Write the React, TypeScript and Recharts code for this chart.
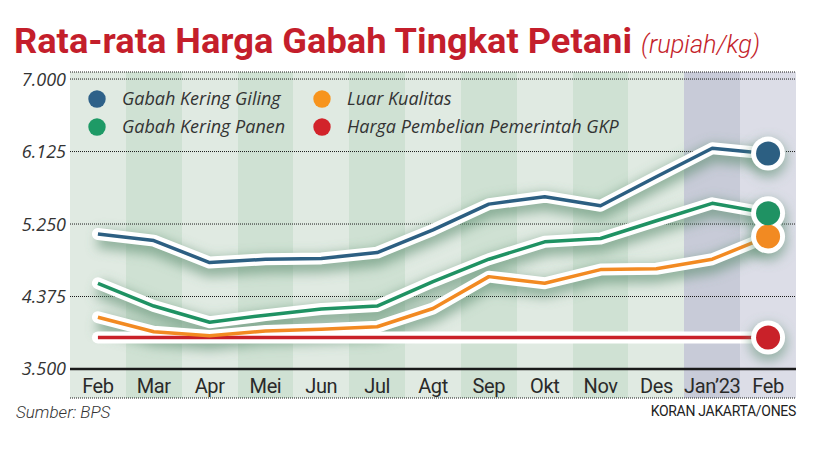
import React from 'react';
import { ComposedChart, Line, XAxis, YAxis, CartesianGrid, ReferenceLine } from 'recharts';

// ---- data ----
const monthKeys = ['m01', 'm02', 'm03', 'm04', 'm05', 'm06', 'm07', 'm08', 'm09', 'm10', 'm11', 'm12', 'm13'];
const monthLabels = ['Feb', 'Mar', 'Apr', 'Mei', 'Jun', 'Jul', 'Agt', 'Sep', 'Okt', 'Nov', 'Des', 'Jan\u201923', 'Feb'];
const gabahKeringGiling = [5130, 5050, 4785, 4825, 4835, 4905, 5180, 5490, 5580, 5470, 5820, 6165, 6100];
const gabahKeringPanen = [4535, 4260, 4065, 4150, 4225, 4260, 4555, 4825, 5035, 5075, 5290, 5500, 5380];
const luarKualitas = [4125, 3950, 3900, 3960, 3980, 4010, 4230, 4615, 4535, 4700, 4710, 4825, 5100];
const hargaPembelian = [3880, 3880, 3880, 3880, 3880, 3880, 3880, 3880, 3880, 3880, 3880, 3880, 3880];
const yTicks = [3500, 4375, 5250, 6125, 7000];

const seriesNames = ['Gabah Kering Giling', 'Luar Kualitas', 'Gabah Kering Panen', 'Harga Pembelian Pemerintah GKP'];

// ---- styles ----
const COLORS = { gkg: '#2c5f82', gkp: '#1f9263', lk: '#f28a22', hpp: '#c92129' };
const LEGEND_COLORS = ['#2e6189', '#f7941d', '#1e9a66', '#d2232a'];
const bandColors = ['#e0eae2', '#cfe1d3', '#e0eae2', '#cfe1d3', '#e0eae2', '#cfe1d3', '#e0eae2', '#cfe1d3', '#e0eae2', '#cfe1d3', '#e0eae2', '#c8cbd8', '#dcdde7'];

const data = monthKeys.map((key, i) => ({
  key,
  label: monthLabels[i],
  gkg: gabahKeringGiling[i],
  gkp: gabahKeringPanen[i],
  lk: luarKualitas[i],
  hpp: hargaPembelian[i],
}));

const lastIndex = data.length - 1;
const fmt = (v: number) => {
  const s = String(v);
  return s.slice(0, s.length - 3) + '.' + s.slice(s.length - 3);
};

const makeDot = (kind: 'glow' | 'halo' | 'main', color: string) => (props: any) => {
  const { cx, cy, index } = props;
  if (index !== lastIndex || cx == null || cy == null) return <g key={`d-${kind}-${index}`} />;
  if (kind === 'glow')
    return <circle key={`d-${kind}-${index}`} cx={cx} cy={cy} r={19} fill="#5e8f72" fillOpacity={0.55} filter="url(#glowBlur)" />;
  if (kind === 'halo') return <circle key={`d-${kind}-${index}`} cx={cx} cy={cy} r={17} fill="#ffffff" />;
  return <circle key={`d-${kind}-${index}`} cx={cx} cy={cy} r={12} fill={color} />;
};

const XTick = (props: any) => {
  const { x, y, payload } = props;
  const idx = monthKeys.indexOf(payload.value);
  return (
    <text x={x} y={y - 5} textAnchor="middle" fontFamily="Roboto" fontWeight={400} fontSize={20} fill="#2a2a2a" letterSpacing={-0.4}>
      {monthLabels[idx]}
    </text>
  );
};

const YTick = (props: any) => {
  const { x, y, payload } = props;
  return (
    <text x={x} y={y} dy="0.36em" textAnchor="end" fontFamily="Open Sans" fontStyle="italic" fontSize={18} fill="#333">
      {fmt(payload.value)}
    </text>
  );
};

const bandEdges = (args: any) => {
  const off = args && args.offset ? args.offset : { left: 70, width: 726 };
  return monthKeys.map((_, i) => off.left + (i * off.width) / monthKeys.length);
};

const seriesKeys: Array<keyof typeof COLORS> = ['hpp', 'lk', 'gkp', 'gkg'];

export default function App() {
  return (
    <div style={{ position: 'absolute', left: 0, top: 0, width: 814, height: 451, background: '#fff' }}>
      <ComposedChart width={814} height={451} data={data} margin={{ top: 72, right: 18, bottom: 23, left: 0 }}>
        <defs>
          <filter id="glowBlur" x="-20%" y="-100%" width="140%" height="300%">
            <feGaussianBlur stdDeviation="6" />
            <feOffset dy="5" />
          </filter>
        </defs>
        <XAxis
          dataKey="key"
          type="category"
          scale="band"
          axisLine={false}
          tickLine={false}
          tickSize={0}
          tickMargin={0}
          height={30}
          tick={<XTick />}
          interval={0}
        />
        <YAxis
          type="number"
          domain={[3150, 7085]}
          ticks={yTicks}
          allowDataOverflow
          width={70}
          axisLine={false}
          tickLine={false}
          tickSize={0}
          tickMargin={4}
          tick={<YTick />}
        />
        <CartesianGrid
          horizontal={false}
          vertical={true}
          stroke="none"
          verticalFill={bandColors}
          fillOpacity={1}
          verticalCoordinatesGenerator={bandEdges}
        />
        <CartesianGrid horizontal={true} vertical={false} stroke="#1a1a1a" strokeDasharray="1 1" />
        {seriesKeys.map((k) => (
          <Line
            key={`glow-${k}`}
            dataKey={k}
            stroke="#5a8c6e"
            strokeOpacity={0.6}
            strokeWidth={18}
            filter="url(#glowBlur)"
            dot={makeDot('glow', COLORS[k])}
            activeDot={false}
            isAnimationActive={false}
            legendType="none"
          />
        ))}
        {seriesKeys.map((k) => (
          <Line
            key={`halo-${k}`}
            dataKey={k}
            stroke="#ffffff"
            strokeWidth={12}
            strokeLinecap="round"
            strokeLinejoin="round"
            dot={makeDot('halo', COLORS[k])}
            activeDot={false}
            isAnimationActive={false}
            legendType="none"
          />
        ))}
        {seriesKeys.map((k) => (
          <Line
            key={`main-${k}`}
            dataKey={k}
            stroke={COLORS[k]}
            strokeWidth={3.5}
            strokeLinejoin="round"
            dot={makeDot('main', COLORS[k])}
            activeDot={false}
            isAnimationActive={false}
          />
        ))}
        <ReferenceLine y={3500} stroke="#1a1a1a" strokeWidth={2.5} />
      </ComposedChart>
      <svg width={814} height={451} style={{ position: 'absolute', left: 0, top: 0, pointerEvents: 'none' }}>
        <text x={14} y={53} fontFamily="Roboto" fontWeight={700} fontSize={35} fill="#c41e2b" textLength={618} lengthAdjust="spacingAndGlyphs">
          Rata-rata Harga Gabah Tingkat Petani
        </text>
        <text x={641} y={53} fontFamily="Roboto" fontWeight={300} fontStyle="italic" fontSize={25} fill="#c41e2b" textLength={119} lengthAdjust="spacingAndGlyphs">
          (rupiah/kg)
        </text>
        {[
          { x: 97, y: 99 },
          { x: 322, y: 99 },
          { x: 97, y: 127 },
          { x: 322, y: 127 },
        ].map((p, i) => (
          <g key={`lg-${i}`}>
            <circle cx={p.x} cy={p.y} r={8.7} fill={LEGEND_COLORS[i]} />
            <text x={p.x + 25} y={p.y} dy="0.36em" fontFamily="Open Sans" fontStyle="italic" fontSize={18} fill="#333">
              {seriesNames[i]}
            </text>
          </g>
        ))}
        <text x={16} y={418} fontFamily="Roboto" fontStyle="italic" fontWeight={300} fontSize={17} fill="#333">
          Sumber: BPS
        </text>
        <text x={796} y={416} textAnchor="end" fontFamily="Roboto" fontWeight={400} fontSize={14} fill="#222" letterSpacing={-0.3}>
          KORAN JAKARTA/ONES
        </text>
      </svg>
    </div>
  );
}
